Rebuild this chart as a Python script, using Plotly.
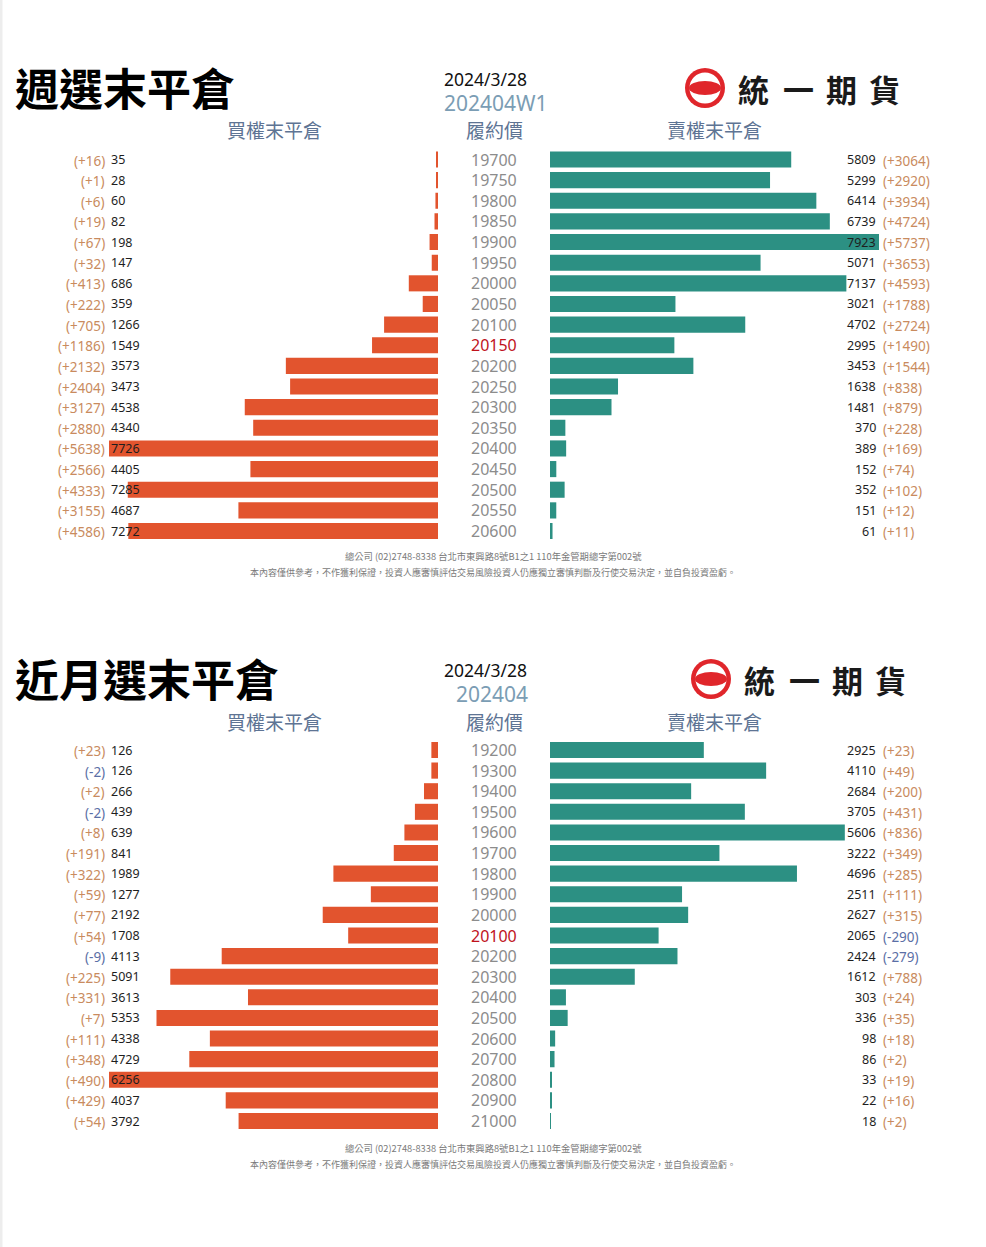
import plotly.graph_objects as go

W, H = 986, 1247

# ---------------- data ----------------
top_strikes = ["19700", "19750", "19800", "19850", "19900", "19950", "20000", "20050", "20100",
               "20150", "20200", "20250", "20300", "20350", "20400", "20450", "20500", "20550", "20600"]
top_call_oi = [35, 28, 60, 82, 198, 147, 686, 359, 1266, 1549, 3573, 3473, 4538, 4340, 7726, 4405, 7285, 4687, 7272]
top_call_chg = [16, 1, 6, 19, 67, 32, 413, 222, 705, 1186, 2132, 2404, 3127, 2880, 5638, 2566, 4333, 3155, 4586]
top_put_oi = [5809, 5299, 6414, 6739, 7923, 5071, 7137, 3021, 4702, 2995, 3453, 1638, 1481, 370, 389, 152, 352, 151, 61]
top_put_chg = [3064, 2920, 3934, 4724, 5737, 3653, 4593, 1788, 2724, 1490, 1544, 838, 879, 228, 169, 74, 102, 12, 11]
top_atm = "20150"

bot_strikes = ["19200", "19300", "19400", "19500", "19600", "19700", "19800", "19900", "20000",
               "20100", "20200", "20300", "20400", "20500", "20600", "20700", "20800", "20900", "21000"]
bot_call_oi = [126, 126, 266, 439, 639, 841, 1989, 1277, 2192, 1708, 4113, 5091, 3613, 5353, 4338, 4729, 6256, 4037, 3792]
bot_call_chg = [23, -2, 2, -2, 8, 191, 322, 59, 77, 54, -9, 225, 331, 7, 111, 348, 490, 429, 54]
bot_put_oi = [2925, 4110, 2684, 3705, 5606, 3222, 4696, 2511, 2627, 2065, 2424, 1612, 303, 336, 98, 86, 33, 22, 18]
bot_put_chg = [23, 49, 200, 431, 836, 349, 285, 111, 315, -290, -279, 788, 24, 35, 18, 2, 19, 16, 2]
bot_atm = "20100"

date_label = "2024/3/28"
top_contract = "202404W1"
bot_contract = "202404"
top_title = "週選末平倉"
bot_title = "近月選末平倉"
hdr_call = "買權末平倉"
hdr_strike = "履約價"
hdr_put = "賣權末平倉"
logo_chars = ["統", "一", "期", "貨"]
footer1 = "總公司 (02)2748-8338 台北市東興路8號B1之1 110年金管期總字第002號"
footer2 = "本內容僅供參考，不作獲利保證，投資人應審慎評估交易風險投資人仍應獨立審慎判斷及行使交易決定，並自負投資盈虧。"

# ---------------- styles ----------------
CALL_C = "#E2542E"
PUT_C = "#2C9083"
POS_C = "#C98B5E"
NEG_C = "#5B6FA6"
NUM_C = "#1E1E1E"
STRIKE_C = "#8C8C8C"
ATM_C = "#C0121C"
HDR_C = "#5E7494"
CONTRACT_C = "#7B9DB4"
CJK = "Noto Sans CJK TC"
LAT = "Noto Sans"


def px(x):
    return x / W


def py(y):
    return 1 - y / H


fig = go.Figure()
annotations = []
shapes = []


def ann(**kw):
    d = dict(showarrow=False, borderpad=0, xref="paper", yref="paper")
    d.update(kw)
    annotations.append(d)


def ax_name(n):
    return ("x", "y", "xaxis", "yaxis") if n == 1 else (f"x{n}", f"y{n}", f"xaxis{n}", f"yaxis{n}")


def panel(idx, strikes, call_oi, call_chg, put_oi, put_chg, atm, shared, y_first, y_last):
    n = len(strikes)
    step = (y_last - y_first) / (n - 1)
    dom = [py(y_last + step / 2), py(y_first - step / 2)]
    xl, yl, xlk, ylk = ax_name(2 * idx + 1)
    xr, yr, xrk, yrk = ax_name(2 * idx + 2)
    lmax = max(call_oi)
    rmax = max(put_oi)
    if shared:
        lmax = rmax = max(lmax, rmax)
    fig.add_trace(go.Bar(y=strikes, x=call_oi, orientation="h", marker=dict(color=CALL_C, line=dict(width=0)),
                         width=0.78, xaxis=xl, yaxis=yl, showlegend=False, hoverinfo="skip"))
    fig.add_trace(go.Bar(y=strikes, x=put_oi, orientation="h", marker=dict(color=PUT_C, line=dict(width=0)),
                         width=0.78, xaxis=xr, yaxis=yr, showlegend=False, hoverinfo="skip"))
    ax = dict(showgrid=False, zeroline=False, showticklabels=False, showline=False, ticks="", fixedrange=True)
    ay = dict(type="category", categoryorder="array", categoryarray=strikes, range=[n - 0.5, -0.5],
              autorange=False, domain=dom, showgrid=False, zeroline=False, showticklabels=False,
              showline=False, ticks="", fixedrange=True)
    fig.update_layout(**{
        xlk: dict(ax, domain=[px(109), px(438)], range=[lmax, 0], autorange=False, anchor=yl),
        xrk: dict(ax, domain=[px(550), px(879)], range=[0, rmax], autorange=False, anchor=yr),
        ylk: dict(ay, anchor=xl),
        yrk: dict(ay, anchor=xr),
    })
    fs = 12.5
    fd = 13.5
    for i, (s, co, cc, po, pc) in enumerate(zip(strikes, call_oi, call_chg, put_oi, put_chg)):
        ann(x=px(110), y=i, yref=yl, text=str(co), xanchor="left", yanchor="middle",
            font=dict(family=LAT, size=fs, color=NUM_C))
        ann(x=px(105.5), y=i, yref=yl, text=f"({cc:+d})", xanchor="right", yanchor="middle", yshift=-1,
            font=dict(family=LAT, size=fd, color=POS_C if cc >= 0 else NEG_C))
        ann(x=px(493.5), y=i, yref=yl, text=s, xanchor="center", yanchor="middle",
            font=dict(family=LAT, size=16, color=ATM_C if s == atm else STRIKE_C))
        ann(x=px(877), y=i, yref=yr, text=str(po), xanchor="right", yanchor="middle",
            font=dict(family=LAT, size=fs, color=NUM_C))
        ann(x=px(881.5), y=i, yref=yr, text=f"({pc:+d})", xanchor="left", yanchor="middle", yshift=-1,
            font=dict(family=LAT, size=fd, color=POS_C if pc >= 0 else NEG_C))


def header(title, contract, contract_anchor, contract_x, y0, logo_dx):
    ann(x=px(14), y=py(y0 + 87), text=f"<b>{title}</b>", xanchor="left", yanchor="middle",
        font=dict(family=CJK, size=44, color="#000000"))
    ann(x=px(443), y=py(y0 + 79), text=date_label, xanchor="left", yanchor="middle",
        font=dict(family=LAT, size=17.5, color="#111111"))
    ann(x=px(contract_x), y=py(y0 + 103), text=contract, xanchor=contract_anchor, yanchor="middle",
        font=dict(family=LAT, size=21, color=CONTRACT_C))
    for t, cx in ((hdr_call, 274), (hdr_strike, 494), (hdr_put, 714)):
        ann(x=px(cx), y=py(y0 + 130), text=t, xanchor="center", yanchor="middle",
            font=dict(family=CJK, size=19, color=HDR_C))
    # logo
    cx, cy, r = 705 + logo_dx, y0 + 88, 20
    shapes.append(dict(type="circle", xref="paper", yref="paper", x0=px(cx - r), x1=px(cx + r),
                       y0=py(cy + r), y1=py(cy - r), fillcolor="#E0262B", line=dict(width=0)))
    r2 = 15.5
    shapes.append(dict(type="circle", xref="paper", yref="paper", x0=px(cx - r2), x1=px(cx + r2),
                       y0=py(cy + r2), y1=py(cy - r2), fillcolor="#FFFFFF", line=dict(width=0)))
    shapes.append(dict(type="circle", xref="paper", yref="paper", x0=px(cx - 16), x1=px(cx + 16),
                       y0=py(cy + 7), y1=py(cy - 7), fillcolor="#E0262B", line=dict(width=0)))
    for ch, lx in zip(logo_chars, (753, 798, 841, 884)):
        ann(x=px(lx + logo_dx), y=py(y0 + 88), text=f"<b>{ch}</b>", xanchor="center", yanchor="middle",
            font=dict(family=CJK, size=31, color="#1A1A1A"))


def footer(y1, y2):
    ann(x=px(493), y=py(y1), text=footer1, xanchor="center", yanchor="middle",
        font=dict(family=CJK, size=9.3, color="#7A7A7A"))
    ann(x=px(493), y=py(y2), text=footer2, xanchor="center", yanchor="middle",
        font=dict(family=CJK, size=9, color="#7A7A7A"))


panel(0, top_strikes, top_call_oi, top_call_chg, top_put_oi, top_put_chg, top_atm, False, 159.5, 531)
panel(1, bot_strikes, bot_call_oi, bot_call_chg, bot_put_oi, bot_put_chg, bot_atm, True, 750, 1121)

header(top_title, top_contract, "left", 443, 0, 0)
header(bot_title, bot_contract, "right", 529, 591, 6)
footer(556, 572)
footer(1148, 1164)

# thin grey strip at left edge
shapes.append(dict(type="rect", xref="paper", yref="paper", x0=0, x1=px(2.5), y0=0, y1=1,
                   fillcolor="#EDEDED", line=dict(width=0), layer="below"))

fig.update_layout(width=W, height=H, margin=dict(l=0, r=0, t=0, b=0, pad=0),
                  paper_bgcolor="#FFFFFF", plot_bgcolor="rgba(0,0,0,0)", bargap=0.2,
                  annotations=annotations, shapes=shapes, showlegend=False)

fig.write_html("out.html", config={"displayModeBar": False},
               post_script="document.body.style.margin='0';document.body.style.padding='0';")
